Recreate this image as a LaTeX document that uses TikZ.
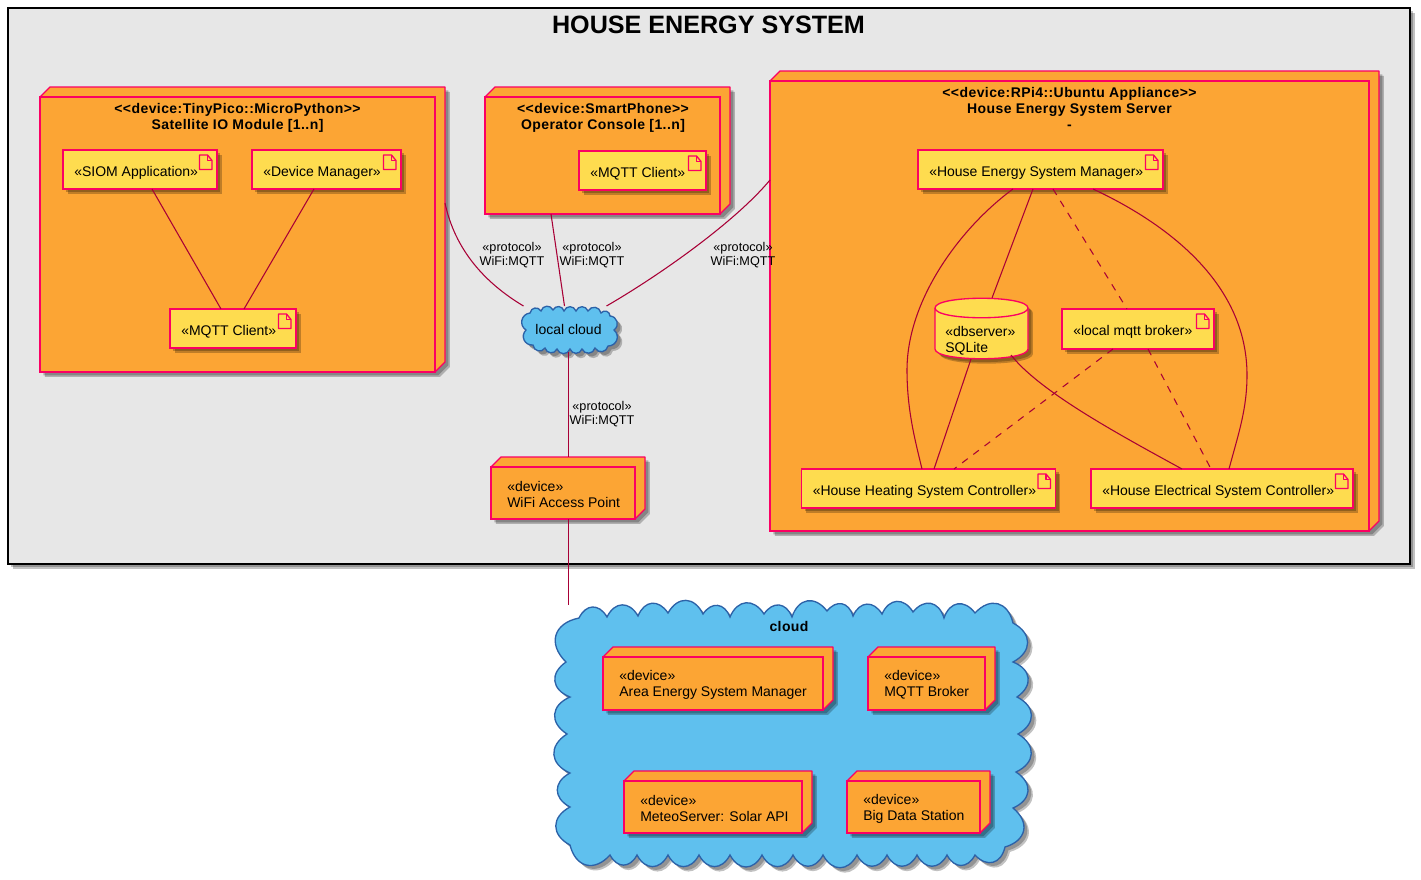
\documentclass[tikz,border=0pt]{standalone}
\usepackage{fontspec}
\setmainfont{Liberation Sans}
\newfontfamily\ttlfont[LetterSpace=3]{Liberation Sans}
\usetikzlibrary{calc,shadows}
\definecolor{nodeorange}{HTML}{FCA534}
\definecolor{artyellow}{HTML}{FEDC4F}
\definecolor{cloudblue}{HTML}{5FC0EE}
\definecolor{pinkline}{HTML}{FB0063}
\definecolor{cloudline}{HTML}{2C62A8}
\definecolor{conn}{HTML}{A80036}
\definecolor{syspanel}{HTML}{E7E7E7}
\tikzset{
  softshadow/.style={
    general shadow={fill=black,opacity=.24,shadow xshift=3.7pt,shadow yshift=-3.7pt},
    general shadow={fill=black,opacity=.24,shadow xshift=2.5pt,shadow yshift=-2.5pt}},
  frontbox/.style={draw=pinkline,line width=1pt,inner sep=0pt,outer sep=0pt,rectangle},
  txt/.style={font=\fontsize{10.5}{12}\selectfont,align=left,inner sep=0pt,text=black},
  ttl/.style={font=\ttlfont\bfseries\fontsize{10.5}{12}\selectfont,align=center,inner sep=0pt,text=black},
  protolabel/.style={font=\fontsize{9.5}{10.5}\selectfont,align=center,inner sep=0pt,text=black},
  link/.style={draw=conn,line width=.8pt},
  dashlink/.style={draw=conn,line width=.8pt,dash pattern=on 5.25pt off 5.25pt},
  scal/.style={bend left=62,looseness=1.45},
  scalsmall/.style={bend left=70,looseness=1.3},
}
% 3D device box: name, x0, y0, x1, y1 (front face)
\newcommand\devbox[5]{%
  \path[softshadow,fill=nodeorange] (#2,#3) -- ({#2+10},{#3-10}) -- ({#4+10},{#3-10}) -- ({#4+10},{#5-10}) -- (#4,#5) -- (#2,#5) -- cycle;
  \draw[draw=pinkline,line width=1pt,fill=nodeorange,line join=round] (#2,#3) -- ({#2+10},{#3-10}) -- ({#4+10},{#3-10}) -- ({#4+10},{#5-10}) -- (#4,#5) -- cycle;
  \node[frontbox,fill=nodeorange,minimum width={(#4-#2)*0.75pt},minimum height={(#5-#3)*0.75pt}] (#1) at ({(#2+#4)/2},{(#3+#5)/2}) {};
}
% leaf device: adds two-line text
\newcommand\leafdev[6]{%
  \devbox{#1}{#2}{#3}{#4}{#5}
  \node[txt,anchor=west] (#1-text) at ({#2+16},{(#3+#5)/2+1.5}) {«device»\\#6};
}
% artifact: name, x0, y0, x1, y1, text
\newcommand\artbox[6]{%
  \node[frontbox,softshadow,fill=artyellow,minimum width={(#4-#2)*0.75pt},minimum height={(#5-#3)*0.75pt}] (#1) at ({(#2+#4)/2},{(#3+#5)/2}) {};
  \node[txt,anchor=west] (#1-text) at ({#2+11},{(#3+#5)/2+3.2}) {#6};
  \draw[pinkline,line width=1pt,fill=artyellow,line join=round] ({#4-17.5},{#3+5}) -- ({#4-9.5},{#3+5}) -- ({#4-5},{#3+10.5}) -- ({#4-5},{#3+19.5}) -- ({#4-17.5},{#3+19.5}) -- cycle;
  \draw[pinkline,line width=1pt,line join=round] ({#4-9.5},{#3+5}) -- ({#4-9.5},{#3+10.5}) -- ({#4-5},{#3+10.5});
}
\begin{document}
\begin{tikzpicture}[x=0.75pt,y=-0.75pt]
\useasboundingbox (0,0) rectangle (1421,879);
\fill[white] (0,0) rectangle (1421,879);

% system panel
\node[draw=black,line width=1pt,fill=syspanel,minimum width={1402*0.75pt},minimum height={556*0.75pt},inner sep=0pt,outer sep=0pt,softshadow] (system) at (709,286) {};
\node[font=\bfseries\fontsize{18.85}{20}\selectfont,inner sep=0pt] (system-title) at (708.5,24.5) {HOUSE ENERGY SYSTEM};

% clusters
\devbox{satellite}{40}{97}{435}{372}
\node[ttl] (satellite-title) at (237.5,118) {<{}<device:TinyPico::MicroPython>{}>\\Satellite IO Module [1..n]};
\devbox{operator}{485}{97}{720}{214}
\node[ttl] (operator-title) at (603,118) {<{}<device:SmartPhone>{}>\\Operator Console [1..n]};
\devbox{server}{770}{81}{1369}{531}
\node[ttl] (server-title) at (1069.5,108) {<{}<device:RPi4::Ubuntu Appliance>{}>\\House Energy System Server\\-};

% artifacts
\artbox{siom}{63}{150}{217}{189}{«SIOM Application»}
\artbox{devmgr}{252}{150}{401}{189}{«Device Manager»}
\artbox{satmqtt}{170}{309}{296}{348}{«MQTT Client»}
\artbox{opmqtt}{579}{151}{706}{190}{«MQTT Client»}
\artbox{hesm}{918}{150}{1163}{189}{«House Energy System Manager»}
\artbox{broker}{1062}{309}{1214}{349}{«local mqtt broker»}
\artbox{heating}{801.5}{469}{1055.5}{508}{«House Heating System Controller»}
\artbox{electrical}{1091}{469}{1353}{508}{«House Electrical System Controller»}

% database
\path[softshadow,fill=artyellow] (935,308) .. controls (935,295) and (1028,295) .. (1028,308) -- (1028,349) .. controls (1028,362) and (935,362) .. (935,349) -- cycle;
\draw[pinkline,line width=1pt,fill=artyellow] (935,308) .. controls (935,295) and (1028,295) .. (1028,308) -- (1028,349) .. controls (1028,362) and (935,362) .. (935,349) -- cycle;
\draw[pinkline,line width=1pt] (935,308) .. controls (935,321) and (1028,321) .. (1028,308);
\node[minimum width={93*0.75pt},minimum height={61*0.75pt},inner sep=0pt,outer sep=0pt] (sqlite) at (981.5,328.5) {};
\node[txt,anchor=west] (sqlite-text) at (945,341) {«dbserver»\\SQLite};

% local cloud
\path[softshadow,fill=cloudblue,draw=cloudline,line width=1pt]
  (530,313) to[scalsmall] (541,311) to[scalsmall] (553,310) to[scalsmall] (564,311) to[scalsmall] (576,311) to[scalsmall] (588,311) to[scalsmall] (601,313) to[scalsmall] (610,316)
  to[scalsmall] (614,330) to[scalsmall] (608,346) to[scalsmall] (595,348) to[scalsmall] (582,349) to[scalsmall] (570,349) to[scalsmall] (557,349) to[scalsmall] (545,348) to[scalsmall] (533,345)
  to[scalsmall] (526,330) to[scalsmall] (530,313) -- cycle;
\node[txt] (lcloud) at (568.5,329) {local cloud};

% access point
\leafdev{wifiap}{491}{467}{635}{519}{WiFi Access Point}

% big cloud
\path[softshadow,fill=cloudblue,draw=cloudline,line width=1pt]
  (579,618) to[scal] (607,617) to[scal] (638,616) to[scal] (668,613) to[scal] (703,614) to[scal] (730,617) to[scal] (764,614) to[scal] (792,617) to[scal] (827,611) to[scal] (853,616) to[scal] (882,614) to[scal] (913,612) to[scal] (944,618) to[scal] (975,613) to[scal] (1013,623)
  to[scal] (1013,662) to[scal] (1017,697) to[scal] (1018,734) to[scal] (1016,772) to[scal] (1013,808) to[scal] (1005,847)
  to[scal] (975,855) to[scal] (947,855) to[scal] (917,855) to[scal] (887,855) to[scal] (857,855) to[scal] (823,855) to[scal] (793,855) to[scal] (762,855) to[scal] (730,855) to[scal] (699,855) to[scal] (668,855) to[scal] (637,855) to[scal] (610,855) to[scal] (570,845)
  to[scal] (570,807) to[scal] (570,773) to[scal] (567,734) to[scal] (570,697) to[scal] (566,662) to[scal] (579,618) -- cycle;
\node[ttl] (bigcloud) at (789,626) {cloud};
\coordinate (bigcloudtop) at (568.5,605);
\leafdev{aesm}{603}{657}{823}{710}{Area Energy System Manager}
\leafdev{mqttbroker}{868}{657}{985}{710}{MQTT Broker}
\leafdev{meteo}{624}{781}{802}{833}{MeteoServer: Solar API}
\leafdev{bigdata}{847}{781}{980}{833}{Big Data Station}

% connectors inside satellite
\draw[link] ($(siom.south)+(12,0)$) -- ($(satmqtt.north)+(-12,0)$);
\draw[link] ($(devmgr.south)+(-12.5,0)$) -- ($(satmqtt.north)+(11,0)$);

% connectors inside server
\draw[link] ($(hesm.south)+(-27.5,0)$) .. controls (960,228) and (907,300) .. (907,370) .. controls (907,410) and (915,440) .. ($(heating.north)+(-6.5,0)$);
\draw[link] ($(hesm.south)+(-7.5,0)$) -- ($(sqlite.north)+(10.5,0)$);
\draw[dashlink] ($(hesm.south)+(12.5,0)$) -- ($(broker.north)+(-11,0)$);
\draw[link] ($(hesm.south)+(52.5,0)$) .. controls (1170,225) and (1247,285) .. (1247,375) .. controls (1247,410) and (1238,435) .. ($(electrical.north)+(7,0)$);
\draw[link] ($(sqlite.south)+(-10.5,0)$) -- ($(heating.north)+(5.5,0)$);
\draw[link] ($(sqlite.south)+(29.5,-4)$) .. controls (1040,392) and (1120,435) .. ($(electrical.north)+(-40,0)$);
\draw[dashlink] ($(broker.south)+(-25,0)$) -- ($(heating.north)+(25.5,0)$);
\draw[dashlink] ($(broker.south)+(10,0)$) -- ($(electrical.north)+(-11,0)$);

% connectors to local cloud
\draw[link] ($(satellite.east)+(10,-31.5)$) .. controls (455,250) and (485,283) .. ($(lcloud)+(-45,-23)$);
\draw[link] ($(operator.south)+(-51.5,0)$) -- ($(lcloud)+(-4,-23)$);
\draw[link] ($(server.west)+(0,-126)$) .. controls (735,222) and (660,275) .. ($(lcloud)+(38,-23)$);
\draw[link] ($(lcloud)+(0,23)$) -- ($(wifiap.north)+(5.5,-10)$);
\draw[link] ($(wifiap.south)+(5.5,0)$) -- (bigcloudtop);

% protocol labels
\node[protolabel] (p1) at (512,255) {«protocol»\\WiFi:MQTT};
\node[protolabel] (p2) at (592,255) {«protocol»\\WiFi:MQTT};
\node[protolabel] (p3) at (743,255) {«protocol»\\WiFi:MQTT};
\node[protolabel] (p4) at (602,414) {«protocol»\\WiFi:MQTT};
\end{tikzpicture}
\end{document}
